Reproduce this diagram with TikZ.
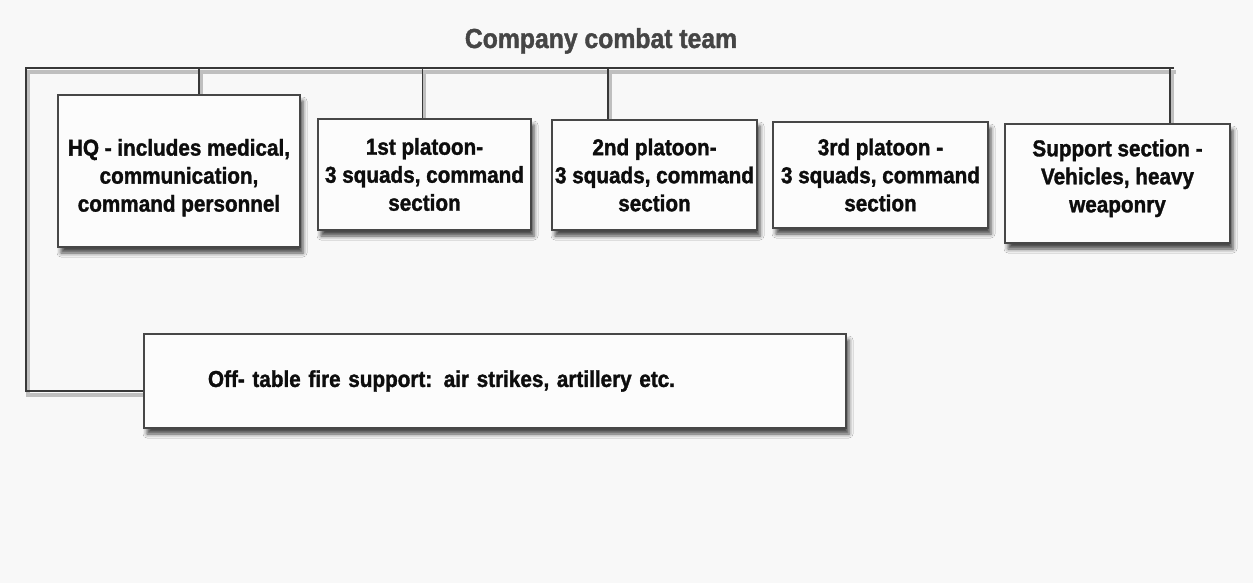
\documentclass[tikz,border=0pt]{standalone}
\usepackage{fontspec}
\setmainfont{Liberation Sans}[BoldFeatures={FakeBold=1.4,FakeStretch=0.9}]
\usetikzlibrary{shadows.blur,backgrounds}
\definecolor{bg}{HTML}{F8F8F8}
\definecolor{titlegray}{HTML}{454545}
\definecolor{boxfill}{HTML}{FCFCFC}
\begin{document}
\begin{tikzpicture}[x=1pt,y=-1pt,
  unit/.style={draw=black!72, line width=1.4pt, fill=boxfill,
    blur shadow={shadow xshift=3pt, shadow yshift=-6pt, shadow blur radius=4pt, shadow opacity=70},
    align=center, text=black!95, font=\bfseries\fontsize{23}{28}\selectfont, inner sep=0pt},
  link/.style={draw=black!78, line width=1.7pt},
  linkshadow/.style={draw=black!25, line width=3.5pt},
  titletext/.style={text=titlegray, font=\bfseries\fontsize{27.5}{30}\selectfont, inner sep=0pt}]
\useasboundingbox (0,0) rectangle (1253,583);

\node[titletext, anchor=base] (title) at (601,48) {Company combat team};

\node[unit, minimum width=242, minimum height=152] (hq) at (179,171)
  {\rule{0pt}{30pt}HQ - includes medical,\\communication,\\command personnel};
\node[unit, minimum width=213, minimum height=111] (p1) at (424.5,174.5)
  {1st platoon-\\3 squads, command\\section};
\node[unit, minimum width=205, minimum height=110] (p2) at (654.5,175)
  {2nd platoon-\\3 squads, command\\section};
\node[unit, minimum width=215, minimum height=106] (p3) at (880.5,175)
  {3rd platoon -\\3 squads, command\\section};
\node[unit, minimum width=225, minimum height=119] (sup) at (1117.5,183.5)
  {Support section -\\Vehicles, heavy\\weaponry\rule[-15pt]{0pt}{1pt}};
\node[unit, inner xsep=64pt, text width=574pt, align=left, minimum height=94] (off) at (495,381)
  {Off- table fire support: air strikes, artillery etc.};

\coordinate (tl) at (26,68);
\coordinate (tr) at (1174,68);
\coordinate (bl) at (26,391);

\newcommand\connectorpaths[1]{%
  \draw[#1] (tr) -- (tl) -- (bl) -- (bl -| off.west);
  \draw[#1] ([xshift=142pt]hq.north west) -- ([xshift=142pt]hq.north west |- tl);
  \draw[#1] ([xshift=-2pt]p1.north) -- ([xshift=-2pt]p1.north |- tl);
  \draw[#1] ([xshift=57pt]p2.north west) -- ([xshift=57pt]p2.north west |- tl);
  \draw[#1] ([xshift=166pt]sup.north west) -- ([xshift=166pt]sup.north west |- tl);
}
\begin{pgfonlayer}{background}
  \fill[bg] (0,0) rectangle (1253,583);
  \begin{scope}[transform canvas={xshift=2pt,yshift=-4pt}]
    \connectorpaths{linkshadow}
  \end{scope}
  \connectorpaths{link}
\end{pgfonlayer}
\end{tikzpicture}
\end{document}
